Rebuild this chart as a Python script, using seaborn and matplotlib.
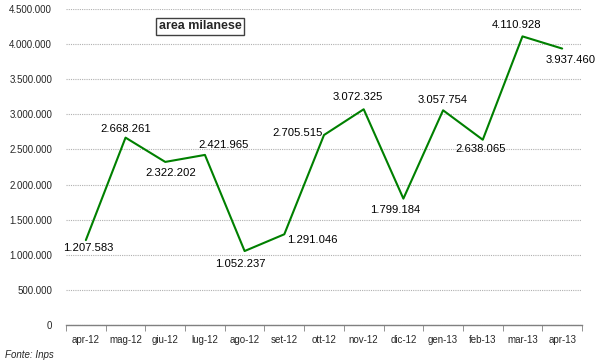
import numpy as np
import pandas as pd
import matplotlib
matplotlib.use("Agg")
import matplotlib.pyplot as plt
from matplotlib.ticker import FuncFormatter, MultipleLocator, FixedLocator
import seaborn as sns

mesi = ["apr-12", "mag-12", "giu-12", "lug-12", "ago-12", "set-12", "ott-12",
        "nov-12", "dic-12", "gen-13", "feb-13", "mar-13", "apr-13"]
valori = [1207583, 2668261, 2322202, 2421965, 1052237, 1291046, 2705515,
          3072325, 1799184, 3057754, 2638065, 4110928, 3937460]

# label offsets in pixels (dx, dy), dy positive = up
offsets = [(2, -8), (0, 9), (6, -11), (19, 10), (-4, -13), (28, -6), (-26, 2),
           (-6, 12), (-8, -11), (0, 10), (-2, -9), (-6, 11), (9, -11)]

sns.set_style("white")
plt.rcParams["font.family"] = ["Liberation Sans", "DejaVu Sans"]

df = pd.DataFrame({"mese": mesi, "valore": valori})

fig = plt.figure(figsize=(6, 3.63), dpi=100)
ax = fig.add_axes([0.11, 0.105, 0.86, 0.87])

sns.lineplot(data=df, x="mese", y="valore", color="#008000", linewidth=1.5,
             sort=False, ax=ax)

def it_fmt(v, pos):
    return f"{int(round(v)):,}".replace(",", ".")

for i, (m, v) in enumerate(zip(mesi, valori)):
    dx, dy = offsets[i]
    ax.annotate(it_fmt(v, None), (i, v), xytext=(dx, dy), textcoords="offset pixels",
                ha="center", va="center", fontsize=8.1, color="black")

ax.set_xlim(-0.5, len(mesi) - 0.5)
ax.set_ylim(0, 4500000)
ax.yaxis.set_major_locator(MultipleLocator(500000))
ax.yaxis.set_major_formatter(FuncFormatter(it_fmt))
ax.grid(axis="y", color="#b0b0b0", linestyle=(0, (1, 1)), linewidth=0.8)
ax.set_axisbelow(True)

for s in ["left", "right", "top"]:
    ax.spines[s].set_visible(False)
ax.spines["bottom"].set_color("#808080")
ax.spines["bottom"].set_linewidth(1.0)

ax.xaxis.set_minor_locator(FixedLocator(np.arange(-0.5, len(mesi), 1.0)))
ax.tick_params(axis="x", which="major", length=0, labelsize=7, pad=7)
ax.tick_params(axis="x", which="minor", length=4, color="#808080", direction="out", bottom=True)
ax.tick_params(axis="y", length=0, labelsize=7, pad=10)

ax.set_xlabel("")
ax.set_ylabel("")

ax.text(0.26, 0.945, "area milanese", transform=ax.transAxes, ha="center", va="center",
        fontsize=9, fontweight="bold",
        bbox=dict(boxstyle="square,pad=0.2", facecolor="white", edgecolor="#404040", linewidth=1))

fig.text(0.008, 0.022, "Fonte: Inps", fontsize=7, style="italic", ha="left", va="center")

fig.savefig("out.png", dpi=100)
